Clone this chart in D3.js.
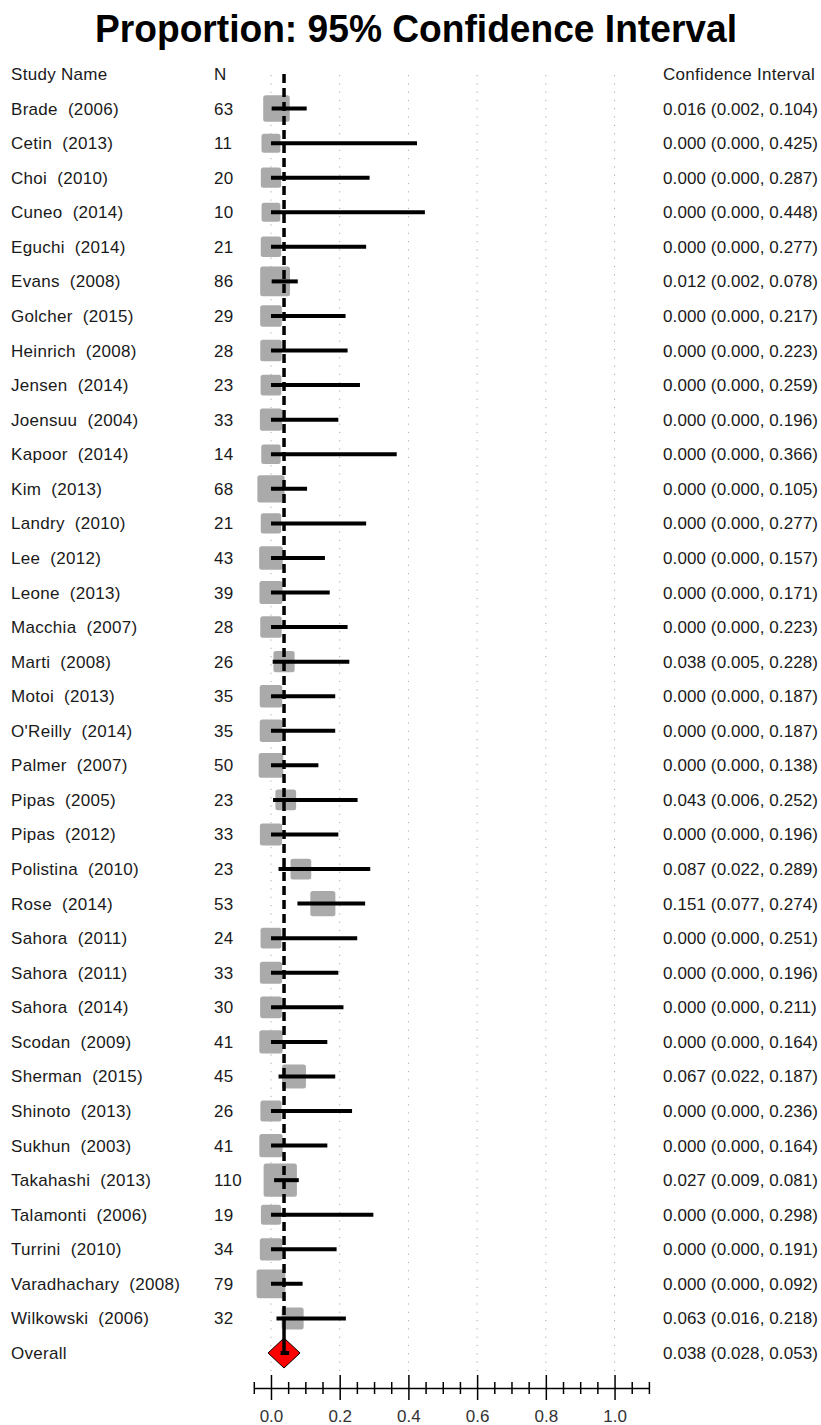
<!DOCTYPE html>
<html>
<head>
<meta charset="utf-8">
<script src="https://cdn.jsdelivr.net/npm/d3@7"></script>
<style>
  html, body { margin: 0; padding: 0; background: #fff; }
  svg { display: block; font-family: "Liberation Sans", Arial, sans-serif; }
  .lbl { white-space: pre; }
</style>
</head>
<body>
<svg id="chart" width="821" height="1425"></svg>
<script>
// Study rows of the forest plot
const studyNames = ["Brade","Cetin","Choi","Cuneo","Eguchi","Evans","Golcher","Heinrich","Jensen","Joensuu",
  "Kapoor","Kim","Landry","Lee","Leone","Macchia","Marti","Motoi","O'Reilly","Palmer",
  "Pipas","Pipas","Polistina","Rose","Sahora","Sahora","Sahora","Scodan","Sherman","Shinoto",
  "Sukhun","Takahashi","Talamonti","Turrini","Varadhachary","Wilkowski"];
const studyYears = [2006,2013,2010,2014,2014,2008,2015,2008,2014,2004,
  2014,2013,2010,2012,2013,2007,2008,2013,2014,2007,
  2005,2012,2010,2014,2011,2011,2014,2009,2015,2013,
  2003,2013,2006,2010,2008,2006];
const sampleSizes = [63,11,20,10,21,86,29,28,23,33,
  14,68,21,43,39,28,26,35,35,50,
  23,33,23,53,24,33,30,41,45,26,
  41,110,19,34,79,32];
const proportions = [0.016,0,0,0,0,0.012,0,0,0,0,
  0,0,0,0,0,0,0.038,0,0,0,
  0.043,0,0.087,0.151,0,0,0,0,0.067,0,
  0,0.027,0,0,0,0.063];
const lowerCI = [0.002,0,0,0,0,0.002,0,0,0,0,
  0,0,0,0,0,0,0.005,0,0,0,
  0.006,0,0.022,0.077,0,0,0,0,0.022,0,
  0,0.009,0,0,0,0.016];
const upperCI = [0.104,0.425,0.287,0.448,0.277,0.078,0.217,0.223,0.259,0.196,
  0.366,0.105,0.277,0.157,0.171,0.223,0.228,0.187,0.187,0.138,
  0.252,0.196,0.289,0.274,0.251,0.196,0.211,0.164,0.187,0.236,
  0.164,0.081,0.298,0.191,0.092,0.218];

// Pooled estimate
const overall = { label: "Overall", est: 0.038, lo: 0.028, hi: 0.053 };

// Axis ticks
const majorTicks = [0, 0.2, 0.4, 0.6, 0.8, 1.0];
const minorTicks = [-0.05, 0.05, 0.1, 0.15, 0.25, 0.3, 0.35, 0.45, 0.5, 0.55, 0.65, 0.7, 0.75, 0.85, 0.9, 0.95, 1.05, 1.1];

const headers = { name: "Study Name", n: "N", ci: "Confidence Interval" };
const titleText = "Proportion: 95% Confidence Interval";

const studies = studyNames.map((name, i) => ({
  label: `${name}  (${studyYears[i]})`,
  n: sampleSizes[i], est: proportions[i], lo: lowerCI[i], hi: upperCI[i]
}));

const fmt = d3.format(".3f");
const svg = d3.select("#chart");

const x = d3.scaleLinear().domain([-0.05, 1.1]).range([253.8, 648.9]);
const y = d3.scaleLinear().domain([0, studies.length + 1]).range([74, 1353]);
const size = d3.scaleLinear().domain([0, 110]).range([17.4, 33.3]);

const textColor = "#1a1a1a";
const fontSize = 17;

// Title
svg.append("text")
  .attr("x", 416).attr("y", 42)
  .attr("text-anchor", "middle")
  .attr("font-weight", "bold")
  .attr("font-size", 38)
  .attr("textLength", 642)
  .attr("lengthAdjust", "spacingAndGlyphs")
  .attr("fill", "#000")
  .text(titleText);

// Dotted reference gridlines
svg.append("g").selectAll("line").data(majorTicks).join("line")
  .attr("x1", d => x(d)).attr("x2", d => x(d))
  .attr("y1", 75).attr("y2", 1372)
  .attr("stroke", "#a8a8a8").attr("stroke-width", 1)
  .attr("stroke-dasharray", "1.2,7.1");

// Column headers
const headerRow = svg.append("g").attr("font-size", fontSize).attr("fill", textColor)
  .attr("letter-spacing", 0.3);
headerRow.append("text").attr("x", 11).attr("y", y(0) + 6).text(headers.name);
headerRow.append("text").attr("x", 214).attr("y", y(0) + 6).text(headers.n);
headerRow.append("text").attr("x", 663).attr("y", y(0) + 6).text(headers.ci);

// Weight squares
svg.append("g").selectAll("rect").data(studies).join("rect")
  .attr("x", d => x(d.est) - size(d.n) / 2)
  .attr("y", (d, i) => y(i + 1) - size(d.n) / 2)
  .attr("width", d => size(d.n))
  .attr("height", d => size(d.n))
  .attr("rx", 2.5)
  .attr("fill", "#aaaaaa");

// Confidence interval lines
svg.append("g").selectAll("line").data(studies).join("line")
  .attr("x1", d => x(d.lo)).attr("x2", d => x(d.hi))
  .attr("y1", (d, i) => y(i + 1)).attr("y2", (d, i) => y(i + 1))
  .attr("stroke", "#000").attr("stroke-width", 4);

// Pooled diamond
const oy = y(studies.length + 1);
const ox = x(overall.est);
svg.append("path")
  .attr("d", `M${ox - 16},${oy} L${ox},${oy - 15} L${ox + 16},${oy} L${ox},${oy + 15} Z`)
  .attr("fill", "#ff0000").attr("stroke", "#000").attr("stroke-width", 1);

// Dashed line at pooled estimate, ending in a solid stem into the diamond
svg.append("line")
  .attr("x1", ox).attr("x2", ox)
  .attr("y1", 74).attr("y2", oy - 28)
  .attr("stroke", "#000").attr("stroke-width", 3.5)
  .attr("stroke-dasharray", "9,5");
svg.append("line")
  .attr("x1", ox).attr("x2", ox)
  .attr("y1", oy - 28).attr("y2", oy)
  .attr("stroke", "#000").attr("stroke-width", 3.5);

// Pooled CI
svg.append("line")
  .attr("x1", x(overall.lo)).attr("x2", x(overall.hi))
  .attr("y1", oy).attr("y2", oy)
  .attr("stroke", "#000").attr("stroke-width", 4);

// Row labels
const rows = svg.append("g").attr("font-size", fontSize).attr("fill", textColor)
  .attr("letter-spacing", 0.3);
rows.selectAll("text.name").data(studies).join("text")
  .attr("class", "name lbl")
  .attr("x", 11).attr("y", (d, i) => y(i + 1) + 6)
  .text(d => d.label);
rows.selectAll("text.n").data(studies).join("text")
  .attr("class", "n")
  .attr("x", 214).attr("y", (d, i) => y(i + 1) + 6)
  .text(d => d.n);
rows.selectAll("text.ci").data(studies).join("text")
  .attr("class", "ci")
  .attr("x", 663).attr("y", (d, i) => y(i + 1) + 6)
  .attr("letter-spacing", 0.1)
  .text(d => `${fmt(d.est)} (${fmt(d.lo)}, ${fmt(d.hi)})`);
rows.append("text").attr("x", 11).attr("y", oy + 6).text(overall.label);
rows.append("text").attr("x", 663).attr("y", oy + 6)
  .attr("letter-spacing", 0.1)
  .text(`${fmt(overall.est)} (${fmt(overall.lo)}, ${fmt(overall.hi)})`);

// Bottom axis: minor ticks
const axisY = 1388;
const minorAxis = svg.append("g").attr("transform", `translate(0,${axisY})`)
  .call(d3.axisBottom(x).tickValues(minorTicks).tickSize(6).tickSizeOuter(0).tickFormat(""));
minorAxis.selectAll(".tick line").attr("y1", -6).attr("stroke-width", 1.5);
minorAxis.select(".domain").attr("stroke-width", 1.5);

// Bottom axis: major ticks with labels
const majorAxis = svg.append("g").attr("transform", `translate(0,${axisY})`)
  .call(d3.axisBottom(x).tickValues(majorTicks).tickSize(12).tickSizeOuter(0).tickFormat(d3.format(".1f")));
majorAxis.select(".domain").remove();
majorAxis.selectAll(".tick line").attr("y1", -13).attr("stroke-width", 1.5);
majorAxis.selectAll(".tick text")
  .attr("y", 22)
  .attr("font-size", fontSize)
  .attr("font-family", "Liberation Sans, Arial, sans-serif")
  .attr("fill", "#333");
</script>
</body>
</html>
